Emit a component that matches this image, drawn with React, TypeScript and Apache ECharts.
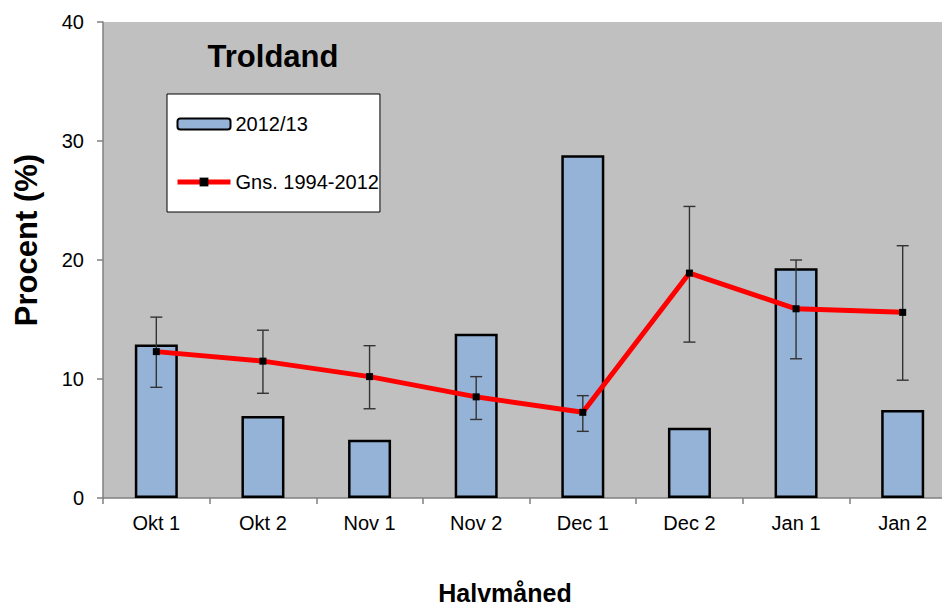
import React, { useEffect, useRef } from "react";
import * as echarts from "echarts";

const categories = ["Okt 1", "Okt 2", "Nov 1", "Nov 2", "Dec 1", "Dec 2", "Jan 1", "Jan 2"];
const season = [12.9, 6.9, 4.9, 13.8, 28.8, 5.9, 19.3, 7.4];
const average = [12.3, 11.5, 10.2, 8.5, 7.2, 18.9, 15.9, 15.6];
const errLow = [9.3, 8.8, 7.5, 6.6, 5.6, 13.1, 11.7, 9.9];
const errHigh = [15.2, 14.1, 12.8, 10.2, 8.6, 24.5, 20.0, 21.2];
const yTicks = [0, 10, 20, 30, 40];

const FONT = 'Arial, "Liberation Sans", sans-serif';

export default function App() {
  const ref = useRef<HTMLDivElement>(null);
  useEffect(() => {
    document.body.style.margin = "0";
    if (!ref.current) return;
    const chart = echarts.init(ref.current, undefined, { renderer: "svg" });
    const errData = categories.map((_, i) => [i, errLow[i], errHigh[i]]);
    chart.setOption({
      animation: false,
      backgroundColor: "#ffffff",
      textStyle: { fontFamily: FONT },
      grid: {
        left: 103,
        top: 22,
        width: 853,
        height: 476,
        show: true,
        backgroundColor: "#c0c0c0",
        borderWidth: 0,
      },
      legend: {
        orient: "vertical",
        left: 167,
        top: 94,
        padding: [20, 1, 20, 8],
        itemGap: 38,
        itemWidth: 53,
        itemHeight: 11,
        backgroundColor: "#ffffff",
        borderColor: "#000000",
        borderWidth: 1,
        data: [
          { name: "2012/13" },
          { name: "Gns. 1994-2012", lineStyle: { width: 5, color: "#ff0000" } },
        ],
        textStyle: { fontFamily: FONT, fontSize: 20, color: "#000", padding: [0, 0, 0, 0] },
      },
      xAxis: {
        type: "category",
        data: categories,
        boundaryGap: true,
        axisLine: { show: true, lineStyle: { color: "#808080", width: 1.5 } },
        axisTick: { show: true, length: 6, alignWithLabel: false, lineStyle: { color: "#808080", width: 1.5 } },
        axisLabel: { fontFamily: FONT, fontSize: 20, color: "#000", margin: 15, interval: 0 },
        splitLine: { show: false },
      },
      yAxis: {
        type: "value",
        min: yTicks[0],
        max: yTicks[yTicks.length - 1],
        interval: 10,
        axisLine: { show: true, lineStyle: { color: "#808080", width: 1.5 } },
        axisTick: { show: true, length: 6, lineStyle: { color: "#808080", width: 1.5 } },
        axisLabel: { fontFamily: FONT, fontSize: 20, color: "#000", margin: 19 },
        splitLine: { show: false },
      },
      graphic: [
        {
          type: "text",
          x: 273,
          y: 56,
          z: 100,
          style: {
            text: "Troldand",
            font: `bold 31px ${FONT}`,
            fill: "#000",
            textAlign: "center",
            textVerticalAlign: "middle",
          },
        },
        {
          type: "text",
          x: 26,
          y: 240,
          rotation: Math.PI / 2,
          style: {
            text: "Procent (%)",
            font: `bold 31px ${FONT}`,
            fill: "#000",
            textAlign: "center",
            textVerticalAlign: "middle",
          },
        },
        {
          type: "text",
          x: 505,
          y: 593,
          style: {
            text: "Halvmåned",
            font: `bold 25px ${FONT}`,
            fill: "#000",
            textAlign: "center",
            textVerticalAlign: "middle",
          },
        },
      ],
      series: [
        {
          name: "2012/13",
          type: "bar",
          data: season,
          barWidth: 43,
          itemStyle: { color: "#95b3d7", borderColor: "#000000", borderWidth: 2.5 },
          z: 2,
        },
        {
          name: "errors",
          type: "custom",
          data: errData,
          z: 3,
          renderItem: (params: any, api: any) => {
            const x = api.value(0);
            const lo = api.coord([x, api.value(1)]);
            const hi = api.coord([x, api.value(2)]);
            const cap = 6;
            const style = { stroke: "#333333", lineWidth: 1.4 };
            return {
              type: "group",
              children: [
                { type: "line", shape: { x1: lo[0], y1: lo[1], x2: hi[0], y2: hi[1] }, style },
                { type: "line", shape: { x1: lo[0] - cap, y1: lo[1], x2: lo[0] + cap, y2: lo[1] }, style },
                { type: "line", shape: { x1: hi[0] - cap, y1: hi[1], x2: hi[0] + cap, y2: hi[1] }, style },
              ],
            };
          },
        },
        {
          name: "Gns. 1994-2012",
          type: "line",
          data: average,
          symbol: "rect",
          symbolSize: 7,
          itemStyle: { color: "#000000" },
          lineStyle: { color: "#ff0000", width: 5 },
          z: 4,
        },
      ],
    });
    return () => chart.dispose();
  }, []);
  return (
    <div style={{ width: 942, height: 607, overflow: "hidden", position: "relative" }}>
      <div ref={ref} style={{ width: 970, height: 607 }} />
    </div>
  );
}
